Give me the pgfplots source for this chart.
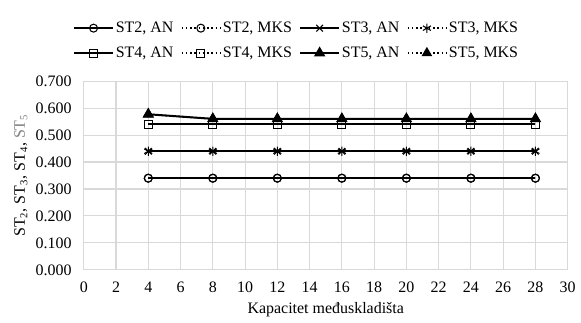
\documentclass[border=0pt]{standalone}
\usepackage{pgfplots}
\pgfplotsset{compat=1.18}
\usepackage{fontspec}
\setmainfont{Liberation Serif}
\begin{document}
\fontsize{12}{14}\selectfont
\begin{tikzpicture}
\begin{axis}[
  scale only axis,
  width=364pt, height=142pt,
  xmin=0, xmax=30, ymin=0, ymax=0.7,
  xtick={0,2,...,30},
  ytick={0,0.1,...,0.7},
  xticklabel style={yshift=-5pt},
  yticklabel style={xshift=-5pt, /pgf/number format/.cd, fixed, fixed zerofill, precision=3},
  /pgf/number format/assume math mode=true,
  grid=major,
  major grid style={gray!30, line width=0.8pt},
  axis line style={draw=none},
  tick style={draw=none},
  xlabel={Kapacitet međuskladišta},
  ylabel={ST\textsubscript{2}, ST\textsubscript{3}, ST\textsubscript{4}, \textcolor{gray}{ST\textsubscript{5}}},
  xlabel style={yshift=1pt},
  ylabel style={yshift=-2pt},
  legend columns=4,
  legend style={at={(0.44,1)}, anchor=south, yshift=15pt, draw=none, font=\fontsize{12}{14}\selectfont,
    inner xsep=0pt, inner ysep=0pt,
    nodes={inner xsep=1.5pt, inner ysep=1pt},
    row sep=7pt,
    /tikz/every even column/.append style={column sep=4pt}},
  legend cell align=left,
  legend image code/.code={\draw[#1, mark repeat=2, mark phase=2] plot coordinates {(0pt,0pt)(14.5pt,0pt)(29pt,0pt)};},
]
\addplot[black, line width=1.5pt, mark=o, mark size=3pt, mark options={solid, line width=0.8pt}] coordinates {(4,0.34)(8,0.34)(12,0.34)(16,0.34)(20,0.34)(24,0.34)(28,0.34)};
\addlegendentry{ST2, AN}
\addplot[black, dotted, line width=1.2pt, mark=o, mark size=3pt, mark options={solid, line width=0.8pt}] coordinates {(4,0.34)(8,0.34)(12,0.34)(16,0.34)(20,0.34)(24,0.34)(28,0.34)};
\addlegendentry{ST2, MKS}
\addplot[black, line width=1.5pt, mark=x, mark size=3.5pt, mark options={solid, line width=0.8pt}] coordinates {(4,0.44)(8,0.44)(12,0.44)(16,0.44)(20,0.44)(24,0.44)(28,0.44)};
\addlegendentry{ST3, AN}
\addplot[black, dotted, line width=1.2pt, mark=asterisk, mark size=3.5pt, mark options={solid, line width=0.8pt}] coordinates {(4,0.44)(8,0.44)(12,0.44)(16,0.44)(20,0.44)(24,0.44)(28,0.44)};
\addlegendentry{ST3, MKS}
\addplot[black, line width=1.5pt, mark=square, mark size=3pt, mark options={solid, line width=0.8pt}] coordinates {(4,0.54)(8,0.54)(12,0.54)(16,0.54)(20,0.54)(24,0.54)(28,0.54)};
\addlegendentry{ST4, AN}
\addplot[black, dotted, line width=1.2pt, mark=square, mark size=3pt, mark options={solid, line width=0.8pt}] coordinates {(4,0.54)(8,0.54)(12,0.54)(16,0.54)(20,0.54)(24,0.54)(28,0.54)};
\addlegendentry{ST4, MKS}
\addplot[black, line width=1.5pt, mark=triangle*, mark size=3.5pt, mark options={solid}] coordinates {(4,0.577)(8,0.56)(12,0.56)(16,0.56)(20,0.56)(24,0.56)(28,0.56)};
\addlegendentry{ST5, AN}
\addplot[black, dotted, line width=1.2pt, mark=triangle*, mark size=3.5pt, mark options={solid}] coordinates {(4,0.577)(8,0.56)(12,0.56)(16,0.56)(20,0.56)(24,0.56)(28,0.56)};
\addlegendentry{ST5, MKS}
\end{axis}
\path (-63pt,0) (373pt,203pt);
\end{tikzpicture}
\end{document}
